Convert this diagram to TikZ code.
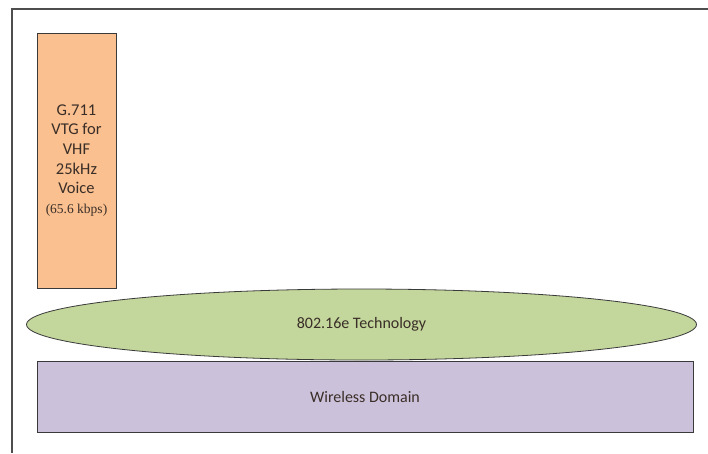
\documentclass[tikz,border=0pt]{standalone}
\usepackage{fontspec}
\setmainfont{Carlito}
\newfontfamily\serifpart{Liberation Serif}
\usetikzlibrary{shapes.geometric}
\definecolor{orangefill}{HTML}{FAC08F}
\definecolor{greenfill}{HTML}{C3D69B}
\definecolor{purplefill}{HTML}{CCC1DA}
\definecolor{edgecol}{HTML}{3A3A3A}
\definecolor{textcol}{HTML}{3A2E28}
\begin{document}
\begin{tikzpicture}[x=1pt,y=-1pt,
  boxstyle/.style={draw=edgecol,line width=0.8pt,inner sep=0pt,text=textcol},
  framestyle/.style={draw=edgecol!90,line width=1.3pt}]
\useasboundingbox (0,0) rectangle (708,453);
\fill[white] (0,0) rectangle (708,453);
\coordinate (tl) at (12,9);
\coordinate (tr) at (708,9);
\coordinate (bl) at (12,453);
\draw[framestyle] (tr) -- (tl) -- (bl);
\node[boxstyle,fill=orangefill,minimum width=79pt,minimum height=255pt,align=center,
  font=\fontsize{16.5}{19.7}\selectfont] (vtg) at (76.5,160.5)
  {G.711\\VTG for\\VHF\\25kHz\\Voice\\{\serifpart\fontsize{13.5}{19.7}\selectfont(65.6 kbps)}};
\node[boxstyle,fill=purplefill,minimum width=656pt,minimum height=71pt,
  font=\fontsize{16}{19}\selectfont] (wd) at (365,396.5) {Wireless Domain};
\node[boxstyle,ellipse,fill=greenfill,minimum width=670pt,minimum height=71pt,
  font=\fontsize{16}{19}\selectfont] (tech) at (361.5,324.5) {802.16e Technology};
\end{tikzpicture}
\end{document}
